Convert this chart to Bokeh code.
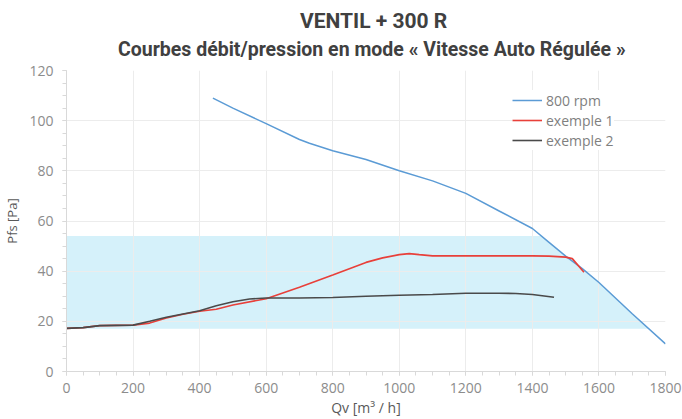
import numpy as np
from bokeh.plotting import figure
from bokeh.models import Range1d, Title, Legend, LegendItem, FixedTicker
from bokeh.embed import file_html
from bokeh.resources import INLINE

# ---- data ----
rpm800_x = [440, 500, 600, 700, 730, 800, 900, 1000, 1100, 1200, 1300, 1400, 1450, 1500, 1550, 1600, 1700, 1800]
rpm800_y = [109, 105, 98.8, 92.5, 91, 88, 84.5, 80, 76, 71, 64, 57, 51.5, 46, 41, 35.5, 23, 11]

ex1_x = [0, 50, 100, 200, 250, 300, 350, 400, 450, 500, 600, 700, 800, 900, 950, 1000, 1030, 1060, 1100, 1200, 1300, 1400, 1450, 1500, 1520, 1555]
ex1_y = [17.2, 17.5, 18.3, 18.5, 19.3, 21.3, 22.8, 24.0, 24.8, 26.5, 29.0, 33.6, 38.5, 43.5, 45.3, 46.6, 47.0, 46.6, 46.1, 46.1, 46.1, 46.1, 46.0, 45.6, 45.0, 39.6]

ex2_x = [0, 50, 100, 200, 250, 300, 350, 400, 450, 500, 550, 600, 700, 800, 900, 1000, 1100, 1200, 1300, 1350, 1400, 1465]
ex2_y = [17.2, 17.5, 18.3, 18.5, 20.0, 21.6, 22.9, 24.2, 26.2, 27.8, 28.9, 29.3, 29.3, 29.5, 30.0, 30.4, 30.7, 31.2, 31.2, 31.1, 30.7, 29.6]

zone_x_left = 0
zone_y_low = 17
zone_y_high = 54

x_ticks = [0, 200, 400, 600, 800, 1000, 1200, 1400, 1600, 1800]
y_ticks = [0, 20, 40, 60, 80, 100, 120]

title1 = "VENTIL + 300 R"
title2 = "Courbes débit/pression en mode « Vitesse Auto Régulée »"
x_label = "Qv [m³ / h]"
y_label = "Pfs [Pa]"
series_names = ["800 rpm", "exemple 1", "exemple 2"]

# ---- zone polygon bounded on the right by the 800 rpm curve ----
bx = np.array(rpm800_x, dtype=float)
by = np.array(rpm800_y, dtype=float)
x_at_high = np.interp(zone_y_high, by[::-1], bx[::-1])
x_at_low = np.interp(zone_y_low, by[::-1], bx[::-1])
mask = (by < zone_y_high) & (by > zone_y_low)
zx = [zone_x_left, zone_x_left, x_at_high] + list(bx[mask]) + [x_at_low]
zy = [zone_y_low, zone_y_high, zone_y_high] + list(by[mask]) + [zone_y_low]

TICK_FONT = "Open Sans"

p = figure(width=682, height=419, output_backend="svg", toolbar_location=None,
           x_range=Range1d(0, 1800), y_range=Range1d(0, 120),
           min_border_left=66, min_border_right=17, min_border_bottom=48, min_border_top=0)
p.outline_line_color = None
p.background_fill_color = "white"

p.patch(zx, zy, fill_color="#d5f1fa", line_color=None, level="image")

r1 = p.line(rpm800_x, rpm800_y, line_color="#5b9bd5", line_width=1.5)
r2 = p.line(ex1_x, ex1_y, line_color="#e8403a", line_width=1.6)
r3 = p.line(ex2_x, ex2_y, line_color="#4a4a4a", line_width=1.6)

for g in (p.xgrid, p.ygrid):
    g.grid_line_color = "#ececec"
    g.grid_line_width = 1
p.xgrid.ticker = FixedTicker(ticks=x_ticks)
p.ygrid.ticker = FixedTicker(ticks=y_ticks)

p.xaxis.ticker = FixedTicker(ticks=x_ticks, minor_ticks=list(range(0, 1801, 50)))
p.yaxis.ticker = FixedTicker(ticks=y_ticks, minor_ticks=list(range(0, 121, 5)))

for ax in (p.xaxis, p.yaxis):
    ax.axis_line_color = "#d9d9d9"
    ax.major_tick_line_color = "#d9d9d9"
    ax.minor_tick_line_color = "#d9d9d9"
    ax.major_tick_out = 4
    ax.major_tick_in = 0
    ax.minor_tick_out = 4
    ax.minor_tick_in = 0
    ax.major_label_text_font = TICK_FONT
    ax.major_label_text_font_size = "14px"
    ax.major_label_text_color = "#8c8c8c"
    ax.axis_label_text_font = TICK_FONT
    ax.axis_label_text_font_style = "normal"
    ax.axis_label_text_color = "#595959"

p.xaxis.major_label_standoff = 7
p.xaxis.axis_label = x_label
p.xaxis.axis_label_text_font_size = "14px"
p.xaxis.axis_label_standoff = 2

p.yaxis.major_label_standoff = 9
p.yaxis.axis_label = y_label
p.yaxis.axis_label_text_font_size = "13px"
p.yaxis.axis_label_standoff = 5

legend = Legend(items=[LegendItem(label=series_names[0], renderers=[r1]),
                       LegendItem(label=series_names[1], renderers=[r2]),
                       LegendItem(label=series_names[2], renderers=[r3])],
                location=(446, 221))
legend.label_text_font = TICK_FONT
legend.label_text_font_size = "14px"
legend.label_text_color = "#7f7f7f"
legend.glyph_width = 30
legend.glyph_height = 20
legend.label_height = 20
legend.label_standoff = 4
legend.spacing = 0
legend.padding = 6
legend.margin = 0
legend.border_line_color = None
legend.background_fill_color = "white"
legend.background_fill_alpha = 1
p.add_layout(legend, "center")

p.add_layout(Title(text=title2, text_font="Roboto", text_font_size="19.5px", text_font_style="bold",
                   text_color="#404040", align="left", standoff=19, offset=51.5), "above")
p.add_layout(Title(text=title1, text_font="Roboto", text_font_size="21px", text_font_style="bold",
                   text_color="#404040", align="left", standoff=-12, offset=233.5), "above")
p.add_layout(Title(text=" ", text_font="Roboto", text_font_size="1px",
                   text_color="#ffffff", align="left", standoff=9), "above")

open("out.html", "w").write(file_html(p, INLINE))
